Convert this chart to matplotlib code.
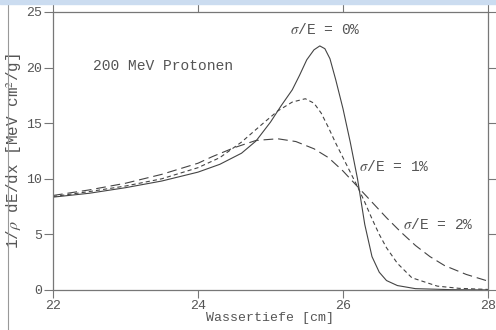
import matplotlib
matplotlib.use('Agg')
import matplotlib.pyplot as plt
from matplotlib.patches import Rectangle
from matplotlib.lines import Line2D

plt.rcParams['font.family'] = ['Liberation Mono', 'DejaVu Sans']
plt.rcParams['mathtext.fontset'] = 'stix'
plt.rcParams['lines.scale_dashes'] = False

# Bragg-Kurven
x0 = [22.0, 22.5, 23.0, 23.5, 24.0, 24.3, 24.6, 24.8, 25.0, 25.15, 25.3, 25.4, 25.5, 25.6,
      25.68, 25.75, 25.82, 25.9, 26.0, 26.1, 26.2, 26.3, 26.4, 26.5, 26.6, 26.75, 27.0, 27.5, 28.0]
y0 = [8.35, 8.7, 9.2, 9.8, 10.6, 11.3, 12.3, 13.4, 15.1, 16.6, 18.0, 19.3, 20.7, 21.6,
      21.95, 21.7, 20.8, 18.9, 16.3, 13.3, 10.0, 5.9, 3.0, 1.6, 0.85, 0.4, 0.12, 0.03, 0.01]

x1 = [22.0, 22.5, 23.0, 23.5, 24.0, 24.3, 24.6, 24.9, 25.1, 25.3, 25.48, 25.6, 25.7, 25.8,
      25.9, 26.0, 26.1, 26.2, 26.3, 26.4, 26.5, 26.6, 26.75, 26.95, 27.3, 27.6, 28.0]
y1 = [8.4, 8.85, 9.35, 10.0, 11.0, 11.9, 13.3, 15.0, 16.1, 16.9, 17.2, 16.8, 15.9, 14.6,
      13.2, 11.9, 10.6, 9.3, 7.9, 6.4, 5.0, 3.8, 2.4, 1.1, 0.35, 0.15, 0.05]

x2 = [22.0, 22.5, 23.0, 23.5, 23.75, 24.0, 24.2, 24.5, 24.8, 25.1, 25.35, 25.6, 25.8, 26.0,
      26.2, 26.4, 26.6, 26.8, 27.0, 27.2, 27.4, 27.7, 28.0]
y2 = [8.5, 9.0, 9.6, 10.4, 10.9, 11.4, 12.0, 12.8, 13.45, 13.6, 13.35, 12.7, 11.9, 10.7,
      9.3, 7.9, 6.5, 5.2, 4.0, 3.0, 2.2, 1.4, 0.8]

xticks = [22, 24, 26, 28]
yticks = [0, 5, 10, 15, 20, 25]

col = '#444444'
tcol = '#555555'
fig = plt.figure(figsize=(4.96, 3.30), dpi=100)
ax = fig.add_axes([53 / 496, 40 / 330, 435 / 496, 278 / 330])

ax.plot(x0, y0, color=col, lw=0.8)
ax.plot(x1, y1, color=col, lw=0.8, dashes=(3, 2.2))
ax.plot(x2, y2, color=col, lw=0.8, dashes=(7, 3.5))

ax.set_xlim(22, 28)
ax.set_ylim(0, 25)
ax.set_xticks(xticks)
ax.set_yticks(yticks)
ax.tick_params(direction='out', length=6.5, width=0.8, color='#777777',
               labelsize=9.5, labelcolor=tcol, top=True, right=True, pad=1.5)
ax.tick_params(axis='x', length=5.5, pad=1.5)
for s in ax.spines.values():
    s.set_color('#777777')
    s.set_linewidth(0.9)

ax.set_xlabel('Wassertiefe [cm]', fontsize=9.5, color=tcol, labelpad=0)
ax.set_ylabel(r'1/$\rho$ dE/dx [MeV cm$^2$/g]', fontsize=11.5, color=tcol, labelpad=1)

tk = dict(fontsize=10.5, color=tcol)
ax.text(22.55, 20.1, '200 MeV Protonen', va='center', ha='left', **tk)
ax.text(25.75, 23.4, r'$\sigma$/E = 0%', va='center', ha='center', **tk)
ax.text(26.22, 11.1, r'$\sigma$/E = 1%', va='center', ha='left', **tk)
ax.text(26.83, 5.85, r'$\sigma$/E = 2%', va='center', ha='left', **tk)

# Bildschirmreste: blauer Streifen oben, Linie links
fig.patches.append(Rectangle((0, 1 - 4 / 330), 1, 4 / 330, transform=fig.transFigure,
                             color='#cbdcf0', zorder=10))
fig.lines.append(Line2D([8 / 496, 8 / 496], [0, 1 - 4 / 330], transform=fig.transFigure,
                        color='#999999', lw=0.8))

fig.savefig('out.png', dpi=100)
